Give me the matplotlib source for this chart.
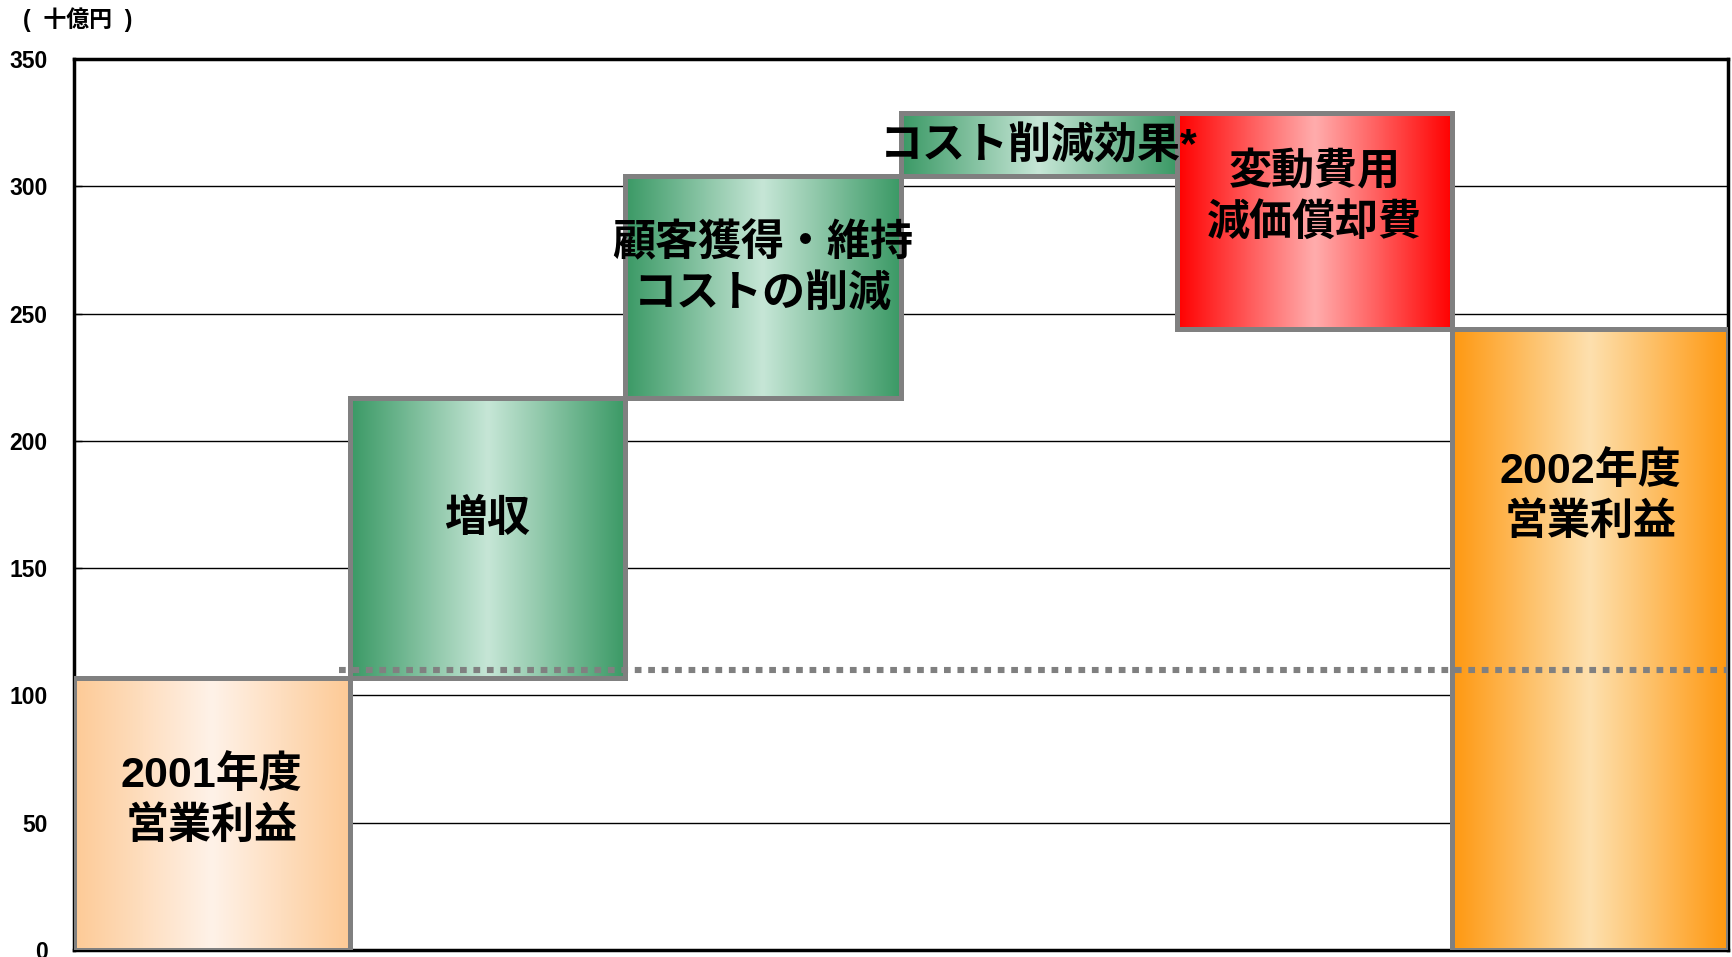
import numpy as np
import matplotlib
matplotlib.use('Agg')
import matplotlib.pyplot as plt
from matplotlib.colors import LinearSegmentedColormap

plt.rcParams['font.family'] = ['Liberation Sans', 'Noto Sans CJK JP', 'DejaVu Sans']

# Operating profit bridge, FY2001 -> FY2002 (billion yen)
steps = ['2001年度\n営業利益', '増収', '顧客獲得・維持\nコストの削減',
         'コスト削減効果*', '変動費用\n減価償却費', '2002年度\n営業利益']
bottoms = [0, 107, 217, 304, 244, 0]
tops = [107, 217, 304, 329, 329, 244]
reference_level = 110
yticks = [0, 50, 100, 150, 200, 250, 300, 350]

# edge / centre colours of the horizontal gradient fill
fills = [('#fdca96', '#fff2e8'),
         ('#3a9965', '#c6e6d6'),
         ('#3a9965', '#c6e6d6'),
         ('#3a9965', '#c6e6d6'),
         ('#ff0000', '#ffacac'),
         ('#ff9810', '#fde0ae')]
# label offsets from bar centre (data units)
label_dy = [5, 7, 7, -1, 9, 56]

fig = plt.figure(figsize=(17.32, 9.57), dpi=100)
ax = fig.add_axes([0.0427, 0.0073, 0.955, 0.931])

grad = np.concatenate([np.linspace(0, 1, 128), np.linspace(1, 0, 128)])[None, :]
for i, (b, t) in enumerate(zip(bottoms, tops)):
    edge_c, mid_c = fills[i]
    cmap = LinearSegmentedColormap.from_list(f'g{i}', [edge_c, mid_c])
    ax.imshow(grad, cmap=cmap, aspect='auto', interpolation='bicubic',
              extent=(i - 0.5, i + 0.5, b, t), zorder=2)
ax.bar(range(len(steps)), np.array(tops) - np.array(bottoms), bottom=bottoms,
       width=1.0, fill=False, edgecolor='#808080', linewidth=3.6, zorder=3)

ax.plot([0.46, 5.5], [reference_level, reference_level], color='#808080',
        linewidth=4.4, dashes=(1.1, 1.1), dash_capstyle='butt', zorder=3.5)

for i, (b, t) in enumerate(zip(bottoms, tops)):
    ax.text(i, (b + t) / 2 + label_dy[i], steps[i], ha='center', va='center',
            fontsize=31, fontweight='bold', linespacing=1.3, zorder=5)

ax.set_xlim(-0.5, 5.5)
ax.set_ylim(0, 350)
ax.set_xticks([])
ax.set_yticks(yticks)
ax.set_yticklabels([str(v) for v in yticks], fontsize=16.5, fontweight='bold')
ax.tick_params(axis='y', direction='in', length=6, width=1, pad=19)
ax.yaxis.grid(True, color='black', linewidth=1)
ax.set_axisbelow(True)
for s in ax.spines.values():
    s.set_linewidth(2.5)
    s.set_color('black')

fig.text(0.013, 1 - 20 / 957, '(  十億円  )', fontsize=16.5, fontweight='bold',
         va='center', ha='left')

fig.savefig('out.png', dpi=100)
plt.close(fig)
